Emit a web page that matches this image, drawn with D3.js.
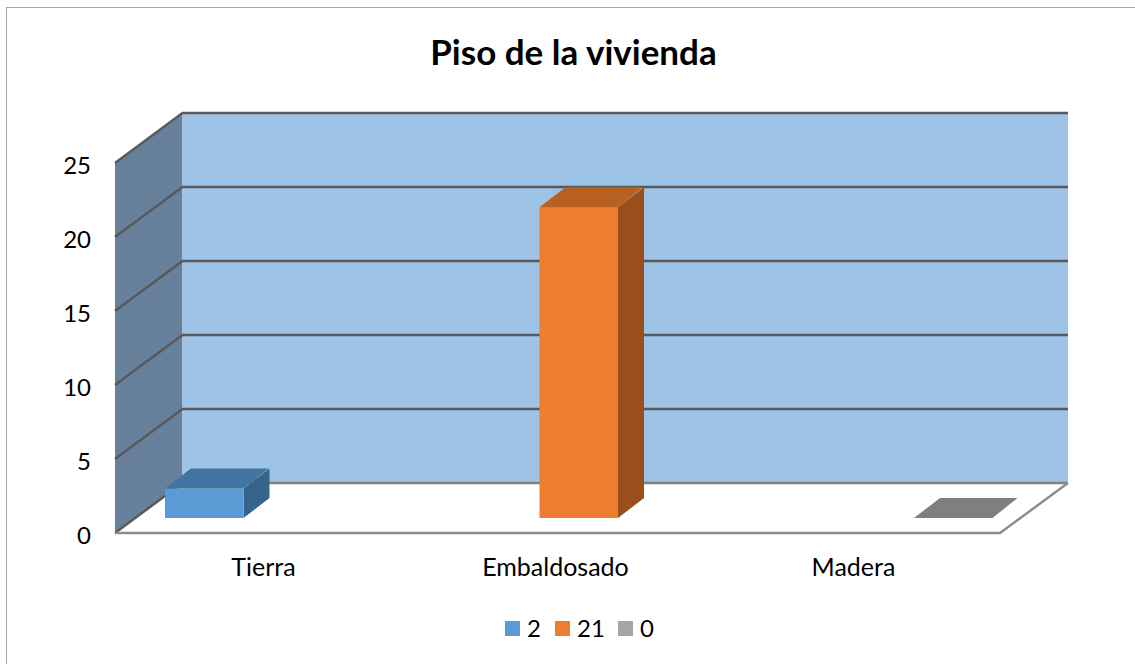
<!DOCTYPE html>
<html><head><meta charset="utf-8">
<script src="https://cdnjs.cloudflare.com/ajax/libs/d3/7.8.5/d3.min.js"></script>
<style>html,body{margin:0;padding:0;background:#fff}svg{display:block}text{font-family:Lato,"Open Sans",sans-serif;fill:#000}</style>
</head><body><svg id="c" width="1135" height="664"></svg>
<script>
const title = "Piso de la vivienda";
const categories = ["Tierra","Embaldosado","Madera"];
const values = [2,21,0];
const legendLabels = ["2","21","0"];
const yTicks = [0,5,10,15,20,25];
const frontColors = ["#5B9BD5","#ED7D31","#A5A5A5"];
const topColors = ["#41749F","#B85F22","#7F7F7F"];
const sideColors = ["#37648C","#984F1C","#7F7F7F"];

const svg = d3.select("#c");
const y = d3.scaleLinear().domain([0,25]).range([533,163]);
const xLabel = d3.scaleBand().domain(categories).range([115,1000]);
const xBar = d3.scalePoint().domain(categories).range([165,914]);
const barW = 78.5, wallDx = 67.5, wallDy = 50, baseDy = 15, depthDx = 26, depthDy = 20;
const labelNudge = [0,-3,0];
const poly = p => p.map(d=>d.join(",")).join(" ");

// frame
svg.append("rect").attr("x",6.5).attr("y",7.5).attr("width",1140).attr("height",670)
  .attr("fill","#fff").attr("stroke","#a6a6a6").attr("stroke-width",1);

// walls
const x0=115, x1=1000, xb1=x1+wallDx+0.5;
svg.append("polygon").attr("points",poly([[x0,y(0)],[x0,y(25)],[x0+wallDx,y(25)-wallDy],[x0+wallDx,y(0)-wallDy]])).attr("fill","#67809B");
svg.append("rect").attr("x",x0+wallDx).attr("y",y(25)-wallDy).attr("width",xb1-x0-wallDx).attr("height",y(0)-y(25)).attr("fill","#9DC3E6");
svg.append("polygon").attr("points",poly([[x0,y(0)],[x1,y(0)],[xb1,y(0)-wallDy],[x0+wallDx,y(0)-wallDy]])).attr("fill","#fff");

// gridlines
yTicks.forEach(t=>{
  svg.append("polyline").attr("points",poly(t===0?[[x0,y(t)],[x0+wallDx,y(t)-wallDy]]:[[x0,y(t)],[x0+wallDx,y(t)-wallDy],[xb1,y(t)-wallDy]]))
    .attr("fill","none").attr("stroke","#595959").attr("stroke-width",2.4);
});
svg.append("line").attr("x1",x0+wallDx).attr("x2",xb1).attr("y1",y(0)-wallDy).attr("y2",y(0)-wallDy).attr("stroke","#808080").attr("stroke-width",2.4);
svg.append("polyline").attr("points",poly([[x0,y(0)],[x1,y(0)],[xb1,y(0)-wallDy]])).attr("fill","none").attr("stroke","#8c8c8c").attr("stroke-width",2.4);

// bars
categories.forEach((c,i)=>{
  const l=xBar(c), r=l+barW, b=y(0)-baseDy, t=y(values[i])-baseDy;
  if(values[i]>0){
    svg.append("polygon").attr("points",poly([[r,b],[r,t],[r+depthDx,t-depthDy],[r+depthDx,b-depthDy]])).attr("fill",sideColors[i]);
    svg.append("rect").attr("x",l).attr("y",t).attr("width",barW).attr("height",b-t).attr("fill",frontColors[i]);
  }
  svg.append("polygon").attr("points",poly([[l,t],[r,t],[r+depthDx-1,t-depthDy],[l+depthDx,t-depthDy]])).attr("fill",topColors[i]);
});

// text
svg.append("text").attr("x",573.5).attr("y",65).attr("text-anchor","middle").attr("font-size",35).attr("font-weight",700).text(title);
yTicks.forEach(t=>svg.append("text").attr("x",91).attr("y",y(t)+11).attr("text-anchor","end").attr("font-size",24).text(t));
categories.forEach((c,i)=>svg.append("text").attr("x",xLabel(c)+xLabel.bandwidth()/2+1+labelNudge[i]).attr("y",576).attr("text-anchor","middle").attr("font-size",25).text(c));

// legend
const legendX = d3.scaleOrdinal().domain(legendLabels).range([505,555,618]);
legendLabels.forEach((l,i)=>{
  svg.append("rect").attr("x",legendX(l)).attr("y",621).attr("width",15).attr("height",15).attr("fill",frontColors[i]);
  svg.append("text").attr("x",legendX(l)+22).attr("y",637).attr("font-size",24).text(l);
});
</script></body></html>
